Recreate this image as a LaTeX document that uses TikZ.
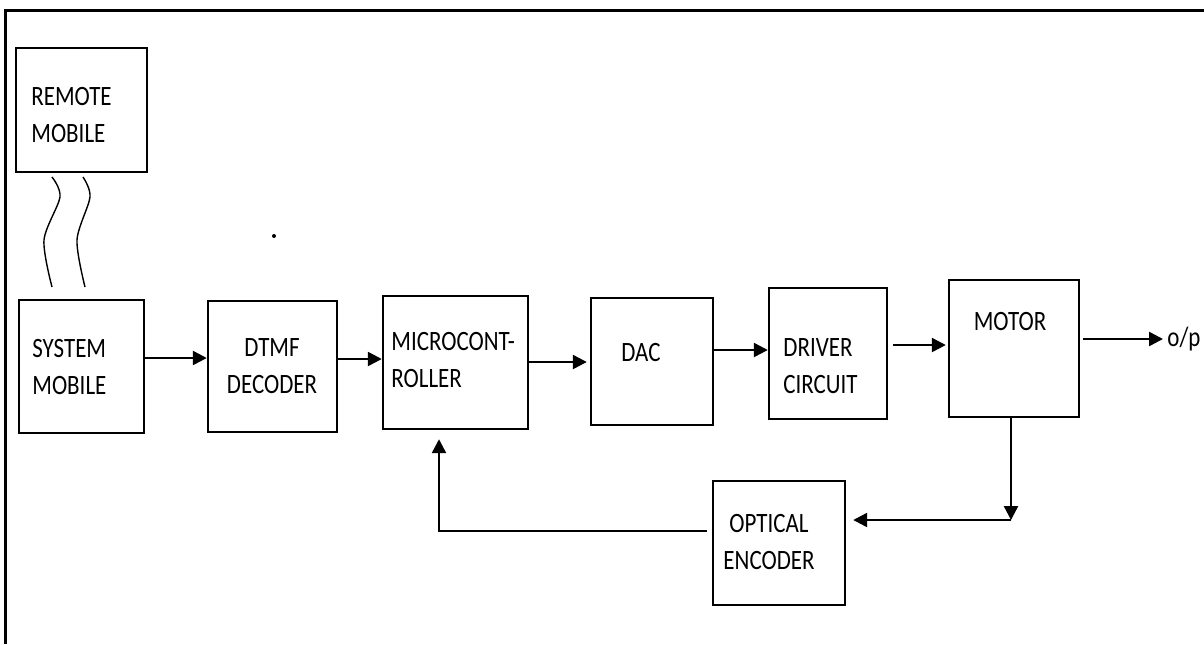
\documentclass[tikz,border=0pt]{standalone}
\usepackage{fontspec}
\setmainfont{Carlito}[FakeStretch=0.82]
\usepackage{tikz}
\usetikzlibrary{arrows.meta,calc,positioning}

\tikzset{
  blk/.style 2 args={draw, line width=1.2pt, inner sep=0pt, minimum width=#1*0.5pt, minimum height=#2*0.5pt},
  txt/.style={font=\fontsize{14}{18.5}\selectfont, inner sep=0pt, align=left},
  flow/.style={line width=1.2pt, -{Triangle[length=7pt,width=7pt]}},
  wave/.style={line width=0.7pt}
}

\begin{document}
\begin{tikzpicture}[x=0.5pt,y=-0.5pt]
  \useasboundingbox (0,0) rectangle (1204,644);
  % frame
  \draw[line width=1.5pt] (5,644) -- (5,10) -- (1204,10);

  % blocks
  \node[blk={131}{124}] (remote) at (81.5,110) {};
  \node[blk={125}{133}] (sysmob) at (81.5,366.5) {};
  \node[blk={129}{131}] (dtmf) at (272.5,366.5) {};
  \node[blk={145}{133}] (micro) at (455.5,362.5) {};
  \node[blk={122}{127}] (dac) at (652,361.5) {};
  \node[blk={118}{131}] (driver) at (828,353.5) {};
  \node[blk={130}{137}] (motor) at (1014,348.5) {};
  \node[blk={132}{124}] (optical) at (779,543) {};

  % block texts
  \node[txt,anchor=west] (remotetxt) at (31,115) {REMOTE\\MOBILE};
  \node[txt,anchor=west] (sysmobtxt) at (32,366.5) {SYSTEM\\MOBILE};
  \node[txt,align=center] (dtmftxt) at (272,366.5) {DTMF\\DECODER};
  \node[txt,anchor=west] (microtxt) at (391,360) {MICROCONT-\\ROLLER};
  \node[txt] (dactxt) at (641,352) {DAC};
  \node[txt,anchor=west] (drivertxt) at (783,366.5) {DRIVER\\CIRCUIT};
  \node[txt] (motortxt) at (1010,322) {MOTOR};
  \node[txt,align=center] (opticaltxt) at (769,541.5) {OPTICAL\\ENCODER};
  \node[txt,anchor=west] (op) at (1167,339) {o/p};

  % radio link
  \draw[wave] plot[smooth] coordinates {(52,177) (60,197) (44,240) (52,287)};
  \draw[wave] plot[smooth] coordinates {(83,177) (90,197) (77,240) (85,287)};
  \fill (274,236) circle (1pt);

  % forward path
  \draw[flow] (sysmob.east |- 0,358) -- (dtmf.west |- 0,358);
  \draw[flow] (dtmf.east |- 0,359) -- (micro.west |- 0,359);
  \draw[flow,shorten >=1.5pt] (micro.east |- 0,362) -- (dac.west |- 0,362);
  \draw[flow] (dac.east |- 0,350) -- (driver.west |- 0,350);
  \draw[flow,shorten <=2.5pt,shorten >=1pt] (driver.east |- 0,345) -- (motor.west |- 0,345);
  \draw[flow,shorten <=1.5pt,shorten >=2pt] (motor.east |- 0,339) -- (op.west);

  % feedback path
  \coordinate (tap) at (1011,520);
  \coordinate (fbk) at (439,531);
  \draw[flow] (motor.south -| tap) -- (tap);
  \draw[flow,shorten >=3.5pt] (tap) -- (optical.east |- tap);
  \draw[flow,shorten <=2.5pt,shorten >=4.5pt] (optical.west |- fbk) -- (fbk) -- (micro.south -| fbk);
\end{tikzpicture}
\end{document}
